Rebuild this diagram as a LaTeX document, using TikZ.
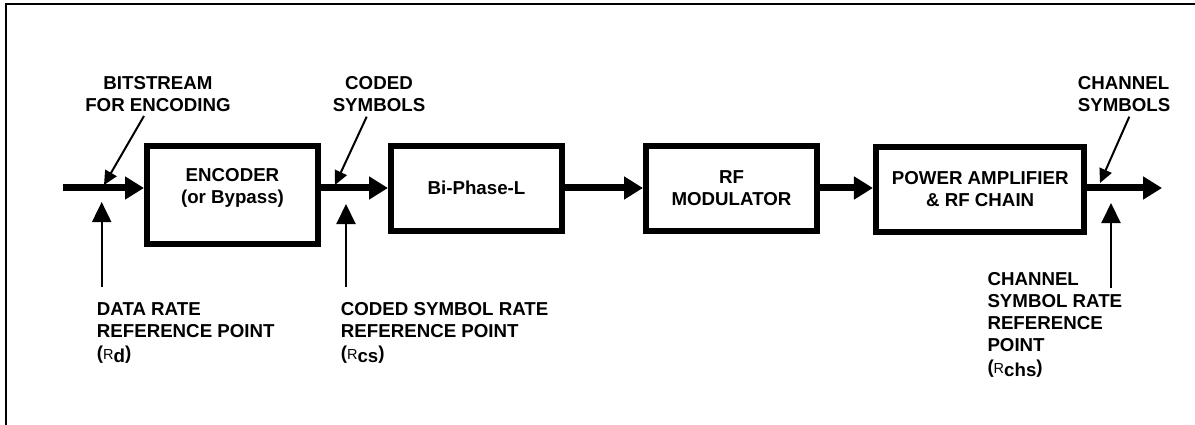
\documentclass[tikz,border=0pt]{standalone}
\usepackage{fontspec}
\setmainfont{Liberation Sans}
\usetikzlibrary{arrows.meta}
\newcommand{\subR}[1]{{\fontseries{m}\fontsize{14.5}{14}\selectfont R}\raisebox{-3.4pt}{#1}}
\tikzset{
  lbl/.style={font=\fontsize{18.7}{22}\selectfont\bfseries, inner sep=0pt, align=left},
  blk/.style={draw, line width=6pt, inner sep=0pt, outer sep=3pt, font=\fontsize{18.7}{22}\selectfont\bfseries, align=center},
  flow/.style={line width=7pt, -{Triangle[length=19pt,width=22pt]}},
  ptr/.style={line width=2pt, -{Triangle[length=14pt,width=13pt]}},
  refarr/.style={line width=2pt, -{Triangle[length=20pt,width=19pt]}}
}
\begin{document}
\begin{tikzpicture}[x=1pt,y=-1pt]
\useasboundingbox (0,0) rectangle (1195,425);
% frame
\draw[line width=2pt] (6,425) -- (6,4) -- (1195,4);
% blocks
\node[blk, minimum width=171pt, minimum height=98pt] (enc) at (232.5,195) {ENCODER\\(or Bypass)\\[-4pt]};
\node[blk, minimum width=171pt, minimum height=84.5pt] (bp) at (476.5,188.3) {Bi-Phase-L};
\node[blk, minimum width=171pt, minimum height=84.5pt] (rf) at (731.5,188.3) {RF\\MODULATOR};
\node[blk, minimum width=208.5pt, minimum height=85pt] (pa) at (980.2,189.5) {POWER AMPLIFIER\\\& RF CHAIN};
% main flow
\coordinate (in) at (63,188);
\coordinate (out) at (1162,188);
\draw[flow] (in) -- (in -| enc.west);
\draw[flow] (enc.east |- in) -- (bp.west |- in);
\draw[flow] (bp.east |- in) -- (rf.west |- in);
\draw[flow] (rf.east |- in) -- (pa.west |- in);
\draw[flow] (pa.east |- in) -- (out);
% labels
\node[lbl, align=center] (bits) at (158,94) {BITSTREAM\\FOR ENCODING};
\node[lbl, align=center] (cod) at (379,94) {CODED\\SYMBOLS};
\node[lbl, anchor=west] (chs) at (1077.7,94) {CHANNEL\\SYMBOLS};
\node[lbl, anchor=west] (dr) at (96.7,333) {DATA RATE\\REFERENCE POINT\\(\subR{d})};
\node[lbl, anchor=west] (csr) at (340.7,333) {CODED SYMBOL RATE\\REFERENCE POINT\\(\subR{cs})};
\node[lbl, anchor=west] (chr) at (987.3,324.5) {CHANNEL\\SYMBOL RATE\\REFERENCE\\POINT\\(\subR{chs})};
% pointer arrows
\coordinate (b0) at (144,116); \coordinate (b1) at (104,185);
\coordinate (c0) at (366.7,116.7); \coordinate (c1) at (335,185);
\coordinate (h0) at (1129.3,116.7); \coordinate (h1) at (1100,183);
\draw[ptr] (b0) -- (b1);
\draw[ptr] (c0) -- (c1);
\draw[ptr] (h0) -- (h1);
\coordinate (d0) at (101.7,287); \coordinate (d1) at (101.7,202);
\coordinate (e0) at (346,287); \coordinate (e1) at (346,204);
\coordinate (f0) at (1111,288); \coordinate (f1) at (1111,203);
\draw[refarr] (d0) -- (d1);
\draw[refarr] (e0) -- (e1);
\draw[refarr] (f0) -- (f1);
\end{tikzpicture}
\end{document}
